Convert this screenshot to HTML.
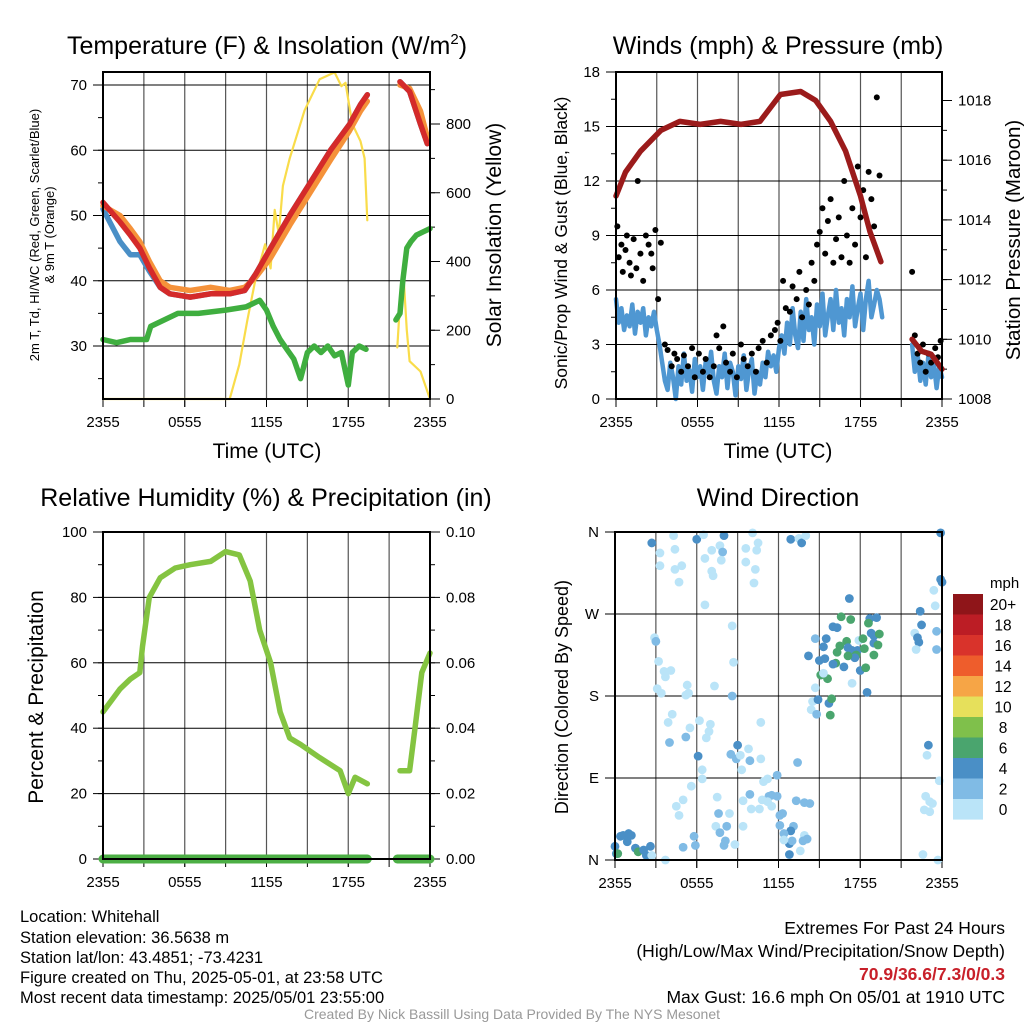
<!DOCTYPE html>
<html><head><meta charset="utf-8"><style>
body{margin:0;background:#fff}
svg{display:block;font-family:"Liberation Sans",Arial,sans-serif}
</style></head><body>
<svg id="fig" width="1024" height="1024" viewBox="0 0 1024 1024" xmlns="http://www.w3.org/2000/svg">
<g font-size="25" text-anchor="middle" fill="#000">
<text x="267" y="54">Temperature (F) &amp; Insolation (W/m<tspan dy="-10" font-size="15">2</tspan><tspan dy="10">)</tspan></text>
<text x="778" y="54">Winds (mph) &amp; Pressure (mb)</text>
<text x="266" y="506">Relative Humidity (%) &amp; Precipitation (in)</text>
<text x="778" y="506">Wind Direction</text>
</g>
<g font-size="16.5" fill="#000">
<text x="20" y="922">Location: Whitehall</text>
<text x="20" y="943">Station elevation: 36.5638 m</text>
<text x="20" y="963">Station lat/lon: 43.4851; -73.4231</text>
<text x="20" y="983">Figure created on Thu, 2025-05-01, at 23:58 UTC</text>
<text x="20" y="1003">Most recent data timestamp: 2025/05/01 23:55:00</text>
</g>
<g font-size="17.5" fill="#000" text-anchor="end">
<text x="1005" y="934">Extremes For Past 24 Hours</text>
<text x="1005" y="957">(High/Low/Max Wind/Precipitation/Snow Depth)</text>
<text x="1005" y="980" fill="#c8202a" font-weight="bold">70.9/36.6/7.3/0/0.3</text>
<text x="1005" y="1003">Max Gust: 16.6 mph On 05/01 at 1910 UTC</text>
</g>
<text x="512" y="1019" font-size="14" fill="#999" text-anchor="middle">Created By Nick Bassill Using Data Provided By The NYS Mesonet</text>
</svg>
<script>
// ---------- data ----------
const xTickVals=[0,6,12,18,24];
const xTickLabels=["2355","0555","1155","1755","2355"];
const tempT=[0,1.25,2,2.7,3.4,4.2,4.9,6.4,7.9,9.3,10.4,11.2,12.3,13.7,15.2,16.7,18.1,18.9,19.4,null,21.8,22.5,23.3,23.8];
const tempRed=[52,49,47,45,42,39,38,37.5,38,38,38.5,41,45,50,55,60,64,67,68.5,null,70.5,69,64,61];
const tempOrange=[51.5,50,48,46,43,40,39,38.5,39,38.5,39,40.5,43.5,48.5,53.5,58.5,63,66,67.5,null,70,69.5,66,62];
const tempBlue=[51,46,44,44,41.5,39,38,37.5,38,38,38.5,41,45,50,55,60,64,67,68.5,null,70.5,69,64,61];
const dewT=[0,1,2,3.2,3.5,4.5,5.5,7,9,10.5,11.5,12,12.5,13,13.5,14,14.5,15,15.5,16,16.5,17,17.5,18,18.3,18.8,19.3,null,21.5,21.8,22,22.3,22.6,23,23.5,24];
const dewV=[31,30.5,31,31,33,34,35,35,35.5,36,37,35.5,33,31,29.5,28,25,29,30,29,30,28.5,29,24,29,30,29.5,null,34,35,40,45,46,47,47.5,48];
const solT=[0,9.3,10,10.6,11.2,11.9,12.3,12.6,12.9,13.2,13.7,14.8,15.9,17,17.5,17.8,18.3,18.9,19.2,19.4,null,21.6,21.8,22.1,22.3,22.5,23.3,24];
const solV=[0,0,100,230,350,450,380,550,480,620,700,840,930,950,910,920,800,750,700,520,null,150,280,330,200,110,80,0];
const tempTicks=[30,40,50,60,70];
const solTicks=[0,200,400,600,800];
const windV1=[5.5,4.2,5,3.8,4.6,4,5.2,3.6,4.8,4.2,5,3.5,4.5,4,4.8,3.8,3,
 2,1,0.5,2,1.2,0,1.8,0.8,2.5,1,1.6,0.4,2.2,1.2,1.8,0.5,2,1.4,2.6,1,0.3,1.8,1.2,2.5,0.6,2,1.5,0.2,1.8,1.1,2.4,0.5,1.6,2.2,0.3,1.5,0.8,2,1.2,2.6,1.8,2.4,1.5,2.8,
 3.5,2.5,4.2,3,5,3.5,2.8,4.8,3.2,5.5,3.8,4.5,3,5.2,4,5.8,3.5,4.6,5.5,3.8,6,4.2,5,3.5,5.5,4.5,6.2,4,5,5.8,3.8,5.5,6.5,4.5,5.2,6,5.5,4.5];
const windT2=[21.8,22,22.2,22.4,22.6,22.8,23,23.2,23.4,23.6,23.8,24];
const windV2=[3,1.5,2.5,1,2,0.8,2.4,1.2,2,0.6,1.8,1.2];
const gustT=[0.1,0.2,0.4,0.5,0.7,0.8,1,1.1,1.3,1.5,1.6,1.8,2,2.2,2.4,2.6,2.7,2.9,3.1,3.3,3.6,3.8,4.1,4.3,4.5,4.8,5,5.3,5.6,5.8,6.1,6.4,6.6,6.9,7.2,7.4,7.6,7.9,8.1,8.4,8.6,8.9,9.2,9.4,9.7,10,10.3,10.5,10.8,11.1,11.4,11.7,11.9,12.1,12.3,12.5,12.8,13,13.3,13.5,13.7,14,14.2,14.4,14.6,14.8,15,15.2,15.4,15.6,15.8,16,16.2,16.4,16.6,16.8,17,17.2,17.4,17.6,17.8,18,18.2,18.4,18.6,18.8,19,19.2,19.4,21.8,22,22.2,22.4,22.6,22.8,23,23.2,23.5,23.7,23.9];
const gustV=[9.5,7.8,8.5,7,8.2,9,7.5,6.8,8.8,7.2,12,8,6.5,9,8.5,8,7.2,9.3,5.5,8.6,3,2.7,1.8,2.5,2.2,1.5,2.4,1.8,2.8,1.2,2.5,1.5,2.2,1.2,1.8,3.5,2.8,4,2,1.5,2.5,1.2,3,2.2,1.8,2.5,1.5,2.8,3.2,2,3.5,3.8,4.2,3.2,6.5,5,4.8,6.2,5.5,7,4.5,6,5.2,7.5,6.5,8.5,9.2,10.5,8,9.8,11,7.5,8.8,10,7.8,12,9,7.5,10.5,8.5,12.8,10,11.5,7.8,12.5,11,9.5,16.6,12.3,7,3.5,2.5,2,3,1.5,2.5,2,2.8,2.3,3.2];
const presT=[0,0.7,1.8,3.3,4.7,6.2,7.7,9.2,10.6,12.1,13.6,14.7,15.8,16.9,18,18.7,19.5,null,21.8,22.5,23.2,24];
const presV=[1014.8,1015.6,1016.3,1017,1017.3,1017.2,1017.3,1017.2,1017.3,1018.2,1018.3,1018,1017.3,1016.3,1014.8,1013.6,1012.6,null,1010,1009.6,1009.5,1009];
const windTicks=[0,3,6,9,12,15,18];
const presTicks=[1008,1010,1012,1014,1016,1018];
const rhT=[0,1.25,2,2.7,2.9,3.4,4.2,5.3,6.4,7.9,9,10,10.8,11.5,12.3,13,13.7,14.5,15.9,17.4,18,18.5,19.4,null,21.8,22.5,22.9,23.4,24];
const rhV=[45,52,55,57,65,80,86,89,90,91,94,93,85,70,60,45,37,35,31,27,20,25,23,null,27,27,40,57,63];
const precT=[0,19.4,null,21.6,24];
const precV=[0,0,null,0,0];
const rhTicks=[0,20,40,60,80,100];
const precTicks=["0.00","0.02","0.04","0.06","0.08","0.10"];
const dirT=[0,0.1,0.4,0.6,1,1.2,0.9,1.5,1.7,0.2,2.1,2.3,2.6,2.7,3.7,2.7,3.3,3.3,4.4,4.4,4.9,4.7,4.3,6,6.5,6.6,7.1,7.7,7.9,7.8,8,7.1,7.2,6.6,9.6,9.6,10.1,10.5,10.4,10.3,10.2,12.9,13.5,13.7,14,2.9,3,3.2,3.6,3.7,4.1,3.1,3.4,5.3,5.2,5.4,7.3,8.6,8.7,8.6,4.2,3.9,4,5.5,5.2,6.2,7,6.9,6.7,6.1,6.4,6.4,5.6,5,4.5,4.7,7.5,7.6,8.4,7.4,7.7,8.2,8.1,8,8.8,5.8,5.9,5,9,8.5,8.9,9.2,9.8,9.9,9.3,10.7,10.7,11.2,10.9,11.9,11.5,11.3,11.2,10.8,11.9,11.5,9.9,9.4,10,10.6,9.4,12.1,12.3,12.1,13.1,12.9,12.4,12.8,13,12.4,12.8,13.6,13.9,13.8,14.1,13.3,13.9,14.3,13.4,17.2,16.6,17.3,18.7,19.2,18.6,16,16.3,14.7,15.5,15.3,17,16.5,17.1,16.3,17.4,17.8,17.9,18.2,18.8,19,19.4,19,19.3,18.3,17.7,17.6,17.1,19,14.2,15,15.4,16.2,16,16.8,18,18.4,15.1,15.6,15.3,14.7,17.4,18.5,14.5,14.4,14.9,15.7,15.9,14.8,15.8,22.4,22.5,22,22.2,22.3,22.1,23.6,23.6,23.5,23.4,23.9,24,23.9,23,22.9,23.8,22.8,23.1,23.3,22.7,23.1,22.6,23.7];
const dirV=[15,7,26,27,29,27,20,13,9,7,11,5,15,5,0,348,337,323,341,319,323,305,356,352,357,331,340,345,338,329,356,317,312,280,342,327,359,348,340,319,304,352,353,348,356,244,240,218,207,201,208,188,183,192,181,183,191,257,217,180,160,151,129,145,135,153,149,141,134,114,99,89,81,66,59,49,69,51,51,37,30,37,21,16,17,26,16,14,126,116,111,115,122,109,99,111,151,89,86,93,71,70,64,66,70,59,72,65,56,56,37,49,51,38,37,32,29,18,21,22,6,10,27,21,23,65,63,62,107,287,267,264,265,266,260,256,255,243,243,234,240,235,233,228,230,230,241,243,249,246,248,238,236,232,225,222,224,225,224,219,221,216,215,212,208,211,203,199,205,189,194,184,174,165,176,172,177,160,159,273,258,249,244,239,231,251,231,279,296,308,305,359,126,115,87,70,64,62,55,53,6,0];
const dirS=[5,5,5,5,5,5,5,5,7,7,5,5,5,1,1,5,1,1,1,1,1,1,1,5,1,1,1,1,3,1,5,1,1,1,1,1,1,1,1,1,1,5,1,5,1,1,3,1,1,1,1,1,1,1,1,1,1,1,1,3,1,1,3,1,3,1,1,1,1,5,1,1,1,1,1,1,1,3,1,1,3,3,3,3,1,3,3,3,5,3,3,1,1,3,1,1,1,1,1,3,3,3,1,1,3,1,3,1,1,1,1,3,3,3,3,5,3,5,3,1,5,1,1,3,3,3,3,3,3,5,7,7,5,5,7,5,5,3,5,5,7,7,5,7,5,5,1,7,5,5,7,5,7,7,7,5,7,7,5,5,5,7,5,5,5,7,7,7,1,1,1,5,1,1,5,5,7,3,7,5,5,1,5,5,1,3,3,1,1,5,5,5,5,1,1,1,1,1,1,1,1,1,1,1,1];
const dirTicks=[0,90,180,270,360];
const dirTickLabels=["N","E","S","W","N"];
const legendLabels=["20+","18","16","14","12","10","8","6","4","2","0"];
const legendColors=["#8f1519","#bc1d25","#d9332b","#ee5d2c","#f6a546","#e6e05b","#7fc04b","#4aa56e","#4a8fc6","#80bbe5","#bae4f8"];
const windT1=[];for(let i=0;i<windV1.length;i++)windT1.push(i*0.2);

// ---------- helpers ----------
const NS="http://www.w3.org/2000/svg";
const svg=document.getElementById('fig');
function mk(tag,attrs,parent){const e=document.createElementNS(NS,tag);for(const k in attrs)e.setAttribute(k,attrs[k]);(parent||svg).appendChild(e);return e;}
function lin(d0,d1,r0,r1){return v=>r0+(v-d0)*(r1-r0)/(d1-d0);}
function pathD(xs,ys,sx,sy){let d="",pen=false;for(let i=0;i<xs.length;i++){if(xs[i]===null||ys[i]===null){pen=false;continue;}d+=(pen?"L":"M")+sx(xs[i]).toFixed(1)+","+sy(ys[i]).toFixed(1);pen=true;}return d;}
function frame(P,g){
  for(let h=3;h<24;h+=3){const l=mk('line',{x1:P.sx(h),x2:P.sx(h),y1:P.t,y2:P.b,stroke:'#555','stroke-width':1.2},g);
    const tk=mk('line',{x1:P.sx(h),x2:P.sx(h),y1:P.b,y2:P.b+8,stroke:'#000','stroke-width':1},g);}
  xTickVals.forEach((v,i)=>{const tk=mk('line',{x1:P.sx(v),x2:P.sx(v),y1:P.b,y2:P.b+8,stroke:'#000','stroke-width':1},g);
    const t=mk('text',{x:P.sx(v),y:P.b+28,'font-size':15,'text-anchor':'middle'},g);t.textContent=xTickLabels[i];});
}
function yAxisLeft(P,g,ticks,sy,labels,minorStep,minorMin,minorMax){
  ticks.forEach((v,i)=>{const y=sy(v);
    const gl=mk('line',{x1:P.l,x2:P.r,y1:y,y2:y,stroke:'#000','stroke-width':1},g);
    const tk=mk('line',{x1:P.l-10,x2:P.l,y1:y,y2:y,stroke:'#000','stroke-width':1},g);
    const t=mk('text',{x:P.l-16,y:y+5,'font-size':15,'text-anchor':'end'},g);t.textContent=labels?labels[i]:v;});
  if(minorStep){for(let v=minorMin;v<=minorMax;v+=minorStep){const y=sy(v);if(y<P.t-0.5||y>P.b+0.5)continue;const tk=mk('line',{x1:P.l-5,x2:P.l,y1:y,y2:y,stroke:'#000','stroke-width':1},g);}}
}
function yAxisRight(P,g,ticks,sy,labels,minorStep,minorMin,minorMax){
  ticks.forEach((v,i)=>{const y=sy(v);
    const tk=mk('line',{x1:P.r,x2:P.r+10,y1:y,y2:y,stroke:'#000','stroke-width':1},g);
    const t=mk('text',{x:P.r+16,y:y+5,'font-size':15,'text-anchor':'start'},g);t.textContent=labels?labels[i]:v;});
  if(minorStep){for(let v=minorMin;v<=minorMax;v+=minorStep){const y=sy(v);if(y<P.t-0.5||y>P.b+0.5)continue;const tk=mk('line',{x1:P.r,x2:P.r+5,y1:y,y2:y,stroke:'#000','stroke-width':1},g);}}
}
function border(P,g){const r=mk('rect',{x:P.l,y:P.t,width:P.r-P.l,height:P.b-P.t,fill:'none',stroke:'#000','stroke-width':2},g);}
function line(g,xs,ys,sx,sy,color,w,name){const p=mk('path',{d:pathD(xs,ys,sx,sy),fill:'none',stroke:color,'stroke-width':w,'stroke-linejoin':'round','stroke-linecap':'round'},g);return p;}
function vtext(g,x,y,txt,size,name){const t=mk('text',{x:x,y:y,'font-size':size,'text-anchor':'middle',transform:`rotate(-90 ${x} ${y})`},g);t.textContent=txt;return t;}
function htext(g,x,y,txt,size,name){const t=mk('text',{x:x,y:y,'font-size':size,'text-anchor':'middle'},g);t.textContent=txt;return t;}

// ---------- panel 1: temperature ----------
(function(){
  const g=mk('g',{});
  const P={l:103,r:430,t:72,b:399};P.sx=lin(0,24,P.l,P.r);
  const sy=lin(30,70,346,85), sy2=lin(0,800,399,124);
  frame(P,g);yAxisLeft(P,g,tempTicks,sy,null,5,25,70);yAxisRight(P,g,solTicks,sy2,null,100,0,900);
  line(g,solT,solV,P.sx,sy2,'#f9dc4a',2.2,'insolation-line');
  line(g,dewT,dewV,P.sx,sy,'#3fae3f',5.5,'dewpoint-line');
  line(g,tempT,tempBlue,P.sx,sy,'#4a8fc6',5.5,'heat-index-windchill-line');
  line(g,tempT,tempOrange,P.sx,sy,'#f5923a',5.5,'temperature-9m-line');
  line(g,tempT,tempRed,P.sx,sy,'#d42a2a',5.5,'temperature-2m-line');
  border(P,g);
  htext(g,267,458,'Time (UTC)',21,'x-axis-title');
  vtext(g,39,235,'2m T, Td, HI/WC (Red, Green, Scarlet/Blue)',13,'y-axis-title');
  vtext(g,54,235,'& 9m T (Orange)',13,'y-axis-title-line2');
  vtext(g,501,235,'Solar Insolation (Yellow)',21,'y2-axis-title');
})();
// ---------- panel 2: winds ----------
(function(){
  const g=mk('g',{});
  const P={l:616,r:942,t:72,b:399};P.sx=lin(0,24,P.l,P.r);
  const sy=lin(0,18,399,72), sy2=lin(1008,1018,399,100.5);
  frame(P,g);yAxisLeft(P,g,windTicks,sy,null,1.5,0,18);yAxisRight(P,g,presTicks,sy2,null,1,1008,1019);
  line(g,windT1,windV1,P.sx,sy,'#4f97d2',4.5,'wind-speed-line');
  line(g,windT2,windV2,P.sx,sy,'#4f97d2',4.5,'wind-speed-line-late');
  gustT.forEach((t,i)=>{const c=mk('circle',{cx:P.sx(t),cy:sy(gustV[i]),r:3,fill:'#000'},g);});
  line(g,presT,presV,P.sx,sy2,'#9b1b1b',5.5,'pressure-line');
  border(P,g);
  htext(g,778,458,'Time (UTC)',21,'x-axis-title');
  vtext(g,567,243,'Sonic/Prop Wind & Gust (Blue, Black)',17.5,'y-axis-title');
  vtext(g,1020,240,'Station Pressure (Maroon)',20.5,'y2-axis-title');
})();
// ---------- panel 3: humidity ----------
(function(){
  const g=mk('g',{});
  const P={l:103,r:430,t:532,b:859};P.sx=lin(0,24,P.l,P.r);
  const sy=lin(0,100,859,532);
  frame(P,g);yAxisLeft(P,g,rhTicks,sy,null,10,0,100);yAxisRight(P,g,rhTicks,sy,precTicks,10,0,100);
  line(g,rhT,rhV,P.sx,sy,'#84c441',5.5,'humidity-line');
  line(g,precT,precV,P.sx,sy,'#4caf45',9,'precipitation-line');
  border(P,g);
  vtext(g,43,697,'Percent & Precipitation',21,'y-axis-title');
})();
// ---------- panel 4: wind direction ----------
(function(){
  const g=mk('g',{});
  const P={l:615,r:942,t:532,b:860};P.sx=lin(0,24,P.l,P.r);
  const sy=lin(0,360,860,532);
  frame(P,g);yAxisLeft(P,g,dirTicks,sy,dirTickLabels);
  const col=s=>legendColors[10-Math.min(10,Math.floor(s/2))];
  dirT.forEach((t,i)=>{const c=mk('circle',{cx:P.sx(t),cy:sy(dirV[i]),r:4.4,fill:col(dirS[i])},g);});
  border(P,g);
  vtext(g,568,697,'Direction (Colored By Speed)',18,'y-axis-title');
  const lg=mk('g',{});
  const lt=mk('text',{x:990,y:588,'font-size':15},lg);lt.textContent='mph';
  legendColors.forEach((c,i)=>{const y=594+i*20.5;
    const r=mk('rect',{x:953,y:y,width:30,height:20.6,fill:c},lg);
    const t=mk('text',{x:1003,y:y+16,'font-size':15.5,'text-anchor':'middle'},lg);t.textContent=legendLabels[i];});
})();
</script>
</body></html>
